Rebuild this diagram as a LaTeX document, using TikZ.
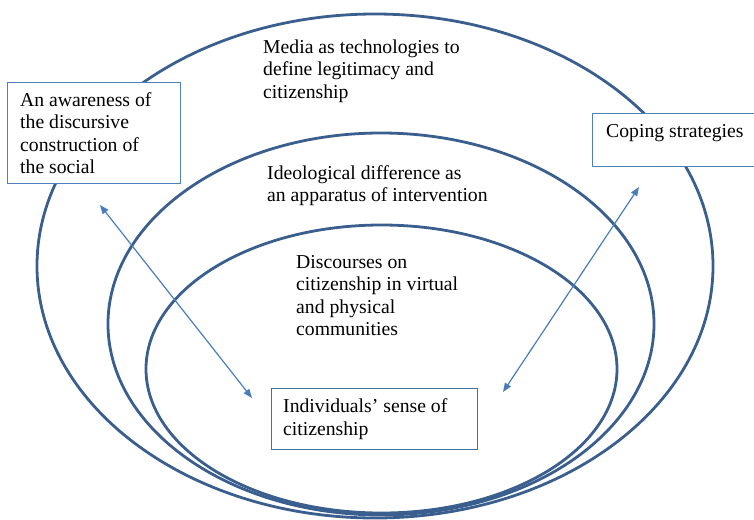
\documentclass[tikz,border=0pt]{standalone}
\usepackage{fontspec}
\setmainfont{Liberation Serif}
\usetikzlibrary{arrows.meta}
\definecolor{ringblue}{HTML}{3A5F8E}
\definecolor{boxblue}{HTML}{4F81BD}
\definecolor{boxdark}{HTML}{41719C}
\definecolor{arrowblue}{HTML}{4A7EBB}
\begin{document}
\begin{tikzpicture}[x=1pt,y=-1pt,
  ring/.style={draw=ringblue,line width=2.8pt},
  frame/.style={draw=boxblue,line width=1.4pt,fill=white,rectangle,inner sep=0pt,anchor=north west},
  % anchored at the baseline of the last line
  txt/.style={inner sep=0pt,anchor=base west,align=left,font=\fontsize{19.7}{22.6}\selectfont},
  link/.style={draw=arrowblue,line width=1.2pt,{Triangle[length=9pt,width=7pt]}-{Triangle[length=9pt,width=7pt]}}
]
\useasboundingbox (0,0) rectangle (754,519);
\clip (0,0) rectangle (754,519);

% nested rings
\draw[ring] (375,266) ellipse [x radius=338pt, y radius=252pt];
\draw[ring] (381,324) ellipse [x radius=273pt, y radius=191pt];
\draw[ring] (381.5,369) ellipse [x radius=235.5pt, y radius=144pt];

% ring captions
\node[txt] (media) at (263,98.2) {Media as technologies to\\define legitimacy and\\citizenship};
\node[txt] (ideo) at (267,201.6) {Ideological difference as\\an apparatus of intervention};
\node[txt] (disc) at (296,335.8) {Discourses on\\citizenship in virtual\\and physical\\communities};

% boxes
\node[frame,minimum width=173pt,minimum height=101pt] (aware) at (7,82) {};
\node[txt] (awaretext) at ([xshift=13pt,yshift=-91.8pt]aware.north west)
  {An awareness of\\the discursive\\construction of\\the social};

\node[frame,minimum width=165pt,minimum height=53pt] (coping) at (592,113) {};
\node[txt] (copingtext) at ([xshift=14pt,yshift=-24.5pt]coping.north west) {Coping strategies};

\node[frame,draw=boxdark,minimum width=206pt,minimum height=61pt] (sense) at (271,388) {};
\node[txt] (sensetext) at ([xshift=12pt,yshift=-47.1pt]sense.north west)
  {Individuals’ sense of\\citizenship};

% two-way links
\coordinate (a1) at (100,205);
\coordinate (a2) at (252,398);
\coordinate (b1) at (639,187);
\coordinate (b2) at (503,392);
\draw[link] (a1) -- (a2);
\draw[link] (b1) -- (b2);
\end{tikzpicture}
\end{document}
